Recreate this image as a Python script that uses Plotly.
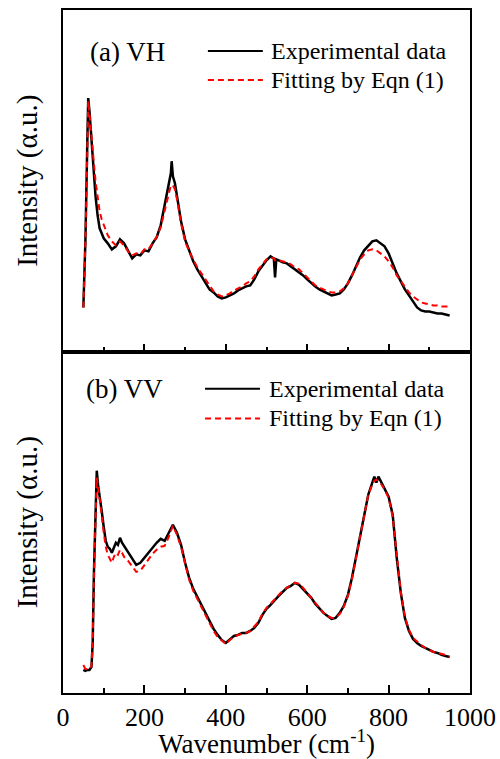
import plotly.graph_objects as go
from plotly.subplots import make_subplots

# ---------------- data (arbitrary intensity units) ----------------
vh_x = [50, 55, 60, 62, 65, 70, 75, 80, 85, 90, 95, 100, 110, 120, 130, 140, 150, 160, 170, 180,
        190, 200, 210, 220, 230, 240, 250, 260, 265, 267, 270, 275, 280, 290, 300, 310, 320, 330,
        340, 350, 360, 370, 380, 390, 400, 410, 420, 430, 440, 450, 460, 470, 480, 490, 500, 510,
        518, 521, 524, 530, 540, 550, 560, 570, 580, 590, 600, 610, 620, 630, 640, 650, 660, 670,
        680, 690, 700, 710, 720, 730, 740, 750, 760, 770, 780, 790, 800, 810, 820, 830, 840, 850,
        860, 870, 880, 890, 900, 910, 920, 930, 940, 950]
vh_exp = [44, 110, 215, 253, 240, 212, 178, 155, 136, 123, 118, 113, 108, 102, 105, 112, 108, 100, 93, 97,
          96, 101, 100, 108, 114, 126, 146, 168, 178, 190, 175, 168, 156, 130, 112, 100, 90, 82,
          75, 68, 62, 59, 55, 53, 54, 56, 58, 61, 63, 65, 66, 72, 80, 86, 91, 95,
          93, 74, 92, 91, 89, 88, 85, 82, 79, 76, 72, 68, 65, 62, 60, 58, 56, 57,
          58, 62, 68, 76, 85, 94, 101, 106, 110, 111, 108, 105, 98, 88, 78, 70, 62, 56,
          50, 44, 41, 40, 40, 39, 38, 38, 37, 36]
vh_fit = [44, 108, 205, 250, 238, 218, 192, 170, 152, 140, 132, 126, 116, 110, 106, 110, 106, 100, 96, 98,
          97, 102, 102, 108, 114, 124, 140, 158, 166, 166, 166, 162, 152, 128, 110, 100, 92, 84,
          78, 72, 66, 60, 57, 55, 56, 58, 61, 63, 65, 68, 70, 75, 82, 87, 92, 94,
          93, 91, 92, 91, 90, 89, 87, 84, 82, 78, 74, 70, 66, 64, 62, 60, 59, 59,
          60, 63, 68, 76, 84, 92, 97, 101, 102, 101, 98, 95, 90, 84, 76, 70, 64, 59,
          55, 52, 49, 48, 47, 46, 46, 45, 45, 45]

vv_x = [50, 55, 60, 65, 70, 73, 76, 79, 83, 86, 90, 95, 100, 105, 110, 115, 120, 125, 130, 135,
        140, 145, 150, 160, 170, 180, 190, 200, 210, 220, 230, 240, 250, 260, 270, 280, 290, 300,
        310, 320, 330, 340, 350, 360, 370, 380, 390, 400, 410, 420, 430, 440, 450, 460, 470, 480,
        490, 500, 510, 520, 530, 540, 550, 560, 570, 580, 590, 600, 610, 620, 630, 640, 650, 660,
        670, 680, 690, 700, 710, 720, 730, 740, 750, 760, 765, 770, 775, 780, 790, 800, 810, 820,
        830, 840, 850, 860, 870, 880, 890, 900, 910, 920, 930, 940, 950]
vv_exp = [23, 22, 23, 23, 26, 50, 120, 170, 222, 208, 198, 182, 166, 152, 146, 144, 140, 146, 150, 148,
          155, 150, 147, 140, 134, 128, 130, 135, 140, 146, 150, 154, 152, 160, 168, 160, 148, 130,
          115, 104, 96, 88, 80, 72, 64, 58, 53, 50, 54, 57, 58, 60, 60, 62, 65, 70,
          78, 84, 88, 93, 97, 101, 105, 107, 110, 108, 104, 100, 95, 89, 84, 80, 77, 74,
          75, 80, 87, 98, 115, 135, 158, 178, 198, 210, 216, 210, 216, 212, 204, 196, 178, 135,
          100, 75, 62, 54, 50, 47, 45, 43, 41, 40, 38, 37, 36]
vv_fit = [28, 24, 24, 24, 27, 50, 118, 168, 215, 206, 195, 178, 160, 146, 138, 134, 130, 136, 140, 138,
          143, 140, 136, 132, 126, 121, 122, 128, 133, 139, 143, 146, 147, 156, 167, 158, 146, 128,
          113, 102, 94, 86, 78, 70, 62, 56, 52, 49, 53, 56, 58, 59, 60, 62, 66, 71,
          79, 85, 89, 94, 98, 102, 105, 108, 110, 109, 105, 100, 95, 90, 85, 80, 77, 75,
          75, 79, 86, 97, 114, 136, 158, 180, 198, 208, 212, 213, 211, 210, 203, 195, 176, 136,
          101, 76, 63, 55, 51, 48, 45, 43, 41, 40, 39, 38, 36]

panel_labels = ["(a) VH", "(b) VV"]
series_names = ["Experimental data", "Fitting by Eqn (1)"]
x_ticks = [0, 200, 400, 600, 800, 1000]

FONT = "Liberation Serif"
RED = "#ff0000"

fig = make_subplots(rows=2, cols=1, shared_xaxes=False, vertical_spacing=0.0)

panels = [(vh_x, vh_exp, vh_fit), (vv_x, vv_exp, vv_fit)]
for i, (xs, ye, yf) in enumerate(panels, start=1):
    fig.add_trace(go.Scatter(x=xs, y=ye, mode="lines", name=series_names[0],
                             line=dict(color="black", width=2.5), showlegend=False), row=i, col=1)
    fig.add_trace(go.Scatter(x=xs, y=yf, mode="lines", name=series_names[1],
                             line=dict(color=RED, width=2, dash="6px,4px"), showlegend=False), row=i, col=1)

axis_common = dict(range=[0, 1000], tickvals=x_ticks, ticks="inside", ticklen=8, tickwidth=2,
                   tickcolor="black", showline=True, linewidth=2, linecolor="black", mirror=True,
                   showgrid=False, zeroline=False, automargin=False,
                   minor=dict(dtick=100, ticks="inside", ticklen=5, tickwidth=2, tickcolor="black",
                              showgrid=False))
fig.update_xaxes(**axis_common)
fig.update_xaxes(showticklabels=False, row=1, col=1)
fig.update_xaxes(showticklabels=True, tickfont=dict(family=FONT, size=26, color="black"),
                 title=dict(text="Wavenumber (cm<sup>-1</sup>)", font=dict(family=FONT, size=27, color="black"),
                            standoff=3),
                 row=2, col=1)
fig.update_yaxes(range=[0, 341], showticklabels=False, ticks="", showline=True, linewidth=2,
                 linecolor="black", mirror=True, showgrid=False, zeroline=False, automargin=False,
                 title=dict(text="Intensity (α.u.)", font=dict(family=FONT, size=29, color="black"),
                            standoff=15))

fig.update_layout(
    width=500, height=759,
    margin=dict(l=63, r=30, t=10, b=66),
    paper_bgcolor="white", plot_bgcolor="white",
    showlegend=False,
)
fig.layout.yaxis.domain = [0.5, 1.0]
fig.layout.yaxis2.domain = [0.0, 0.5]

# panel labels and hand-drawn legends (in axis-domain coordinates)
leg = [
    dict(xr="x domain", yr="y domain", lab_x=0.061, lab_y=0.877, l0=0.356, l1=0.491, tx=0.506,
         r1=0.880, r2=0.795),
    dict(xr="x2 domain", yr="y2 domain", lab_x=0.052, lab_y=0.889, l0=0.349, l1=0.484, tx=0.501,
         r1=0.891, r2=0.804),
]
for k, L in enumerate(leg):
    fig.add_annotation(xref=L["xr"], yref=L["yr"], x=L["lab_x"], y=L["lab_y"], text=panel_labels[k],
                       showarrow=False, xanchor="left", yanchor="middle",
                       font=dict(family=FONT, size=27, color="black"))
    fig.add_shape(type="line", xref=L["xr"], yref=L["yr"], x0=L["l0"], x1=L["l1"], y0=L["r1"], y1=L["r1"],
                  line=dict(color="black", width=2))
    fig.add_shape(type="line", xref=L["xr"], yref=L["yr"], x0=L["l0"], x1=L["l1"], y0=L["r2"], y1=L["r2"],
                  line=dict(color=RED, width=2, dash="6px,4px"))
    for name, yy in zip(series_names, [L["r1"], L["r2"]]):
        fig.add_annotation(xref=L["xr"], yref=L["yr"], x=L["tx"], y=yy, text=name, showarrow=False,
                           xanchor="left", yanchor="middle",
                           font=dict(family=FONT, size=24, color="black"))

fig.write_html("out.html", config={"displayModeBar": False},
               post_script="document.body.style.margin='0';document.body.style.overflow='hidden';")
